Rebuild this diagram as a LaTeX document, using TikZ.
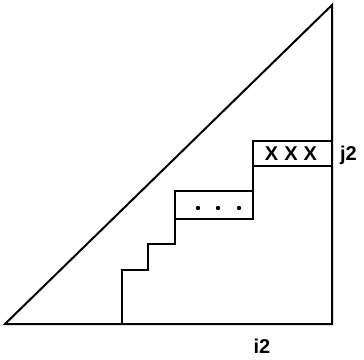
\documentclass[tikz,border=0pt]{standalone}
\usepackage{fontspec}
\setmainfont{Liberation Sans}
\begin{document}
\begin{tikzpicture}[x=1pt, y=-1pt, line width=2pt, line join=miter,
    lbl/.style={font=\fontsize{20}{24}\selectfont\bfseries, inner sep=0pt}]
        \useasboundingbox (0,0) rectangle (364,359);

        % Triangle
        \coordinate (tl) at (5,324);
        \coordinate (tr) at (332,5);
        \coordinate (br) at (332,324);
        \draw (tl) -- (tr) -- (br) -- cycle;

        % Staircase
        \draw (122,324) -- (122,270) -- (148,270) -- (148,244)
            -- (175,244) -- (175,219) -- (253,219) -- (253,166) -- (332,166);

        % Boxes
        \draw (175,191) rectangle (253,219);
        \draw (253,141) rectangle (332,166);

        % Dots
        \foreach \x in {198,218,239} {
            \fill (\x,208) circle (2.2pt);
        }

        % Labels
        \node[lbl, anchor=base] (cross) at (291,160) {X\hspace{0.3em}X\hspace{0.3em}X};
        \node[lbl, anchor=base west] (jlab) at (339,160) {j2};
        \node[lbl, anchor=base] (ilab) at (262,353) {i2};
    \end{tikzpicture}
\end{document}
